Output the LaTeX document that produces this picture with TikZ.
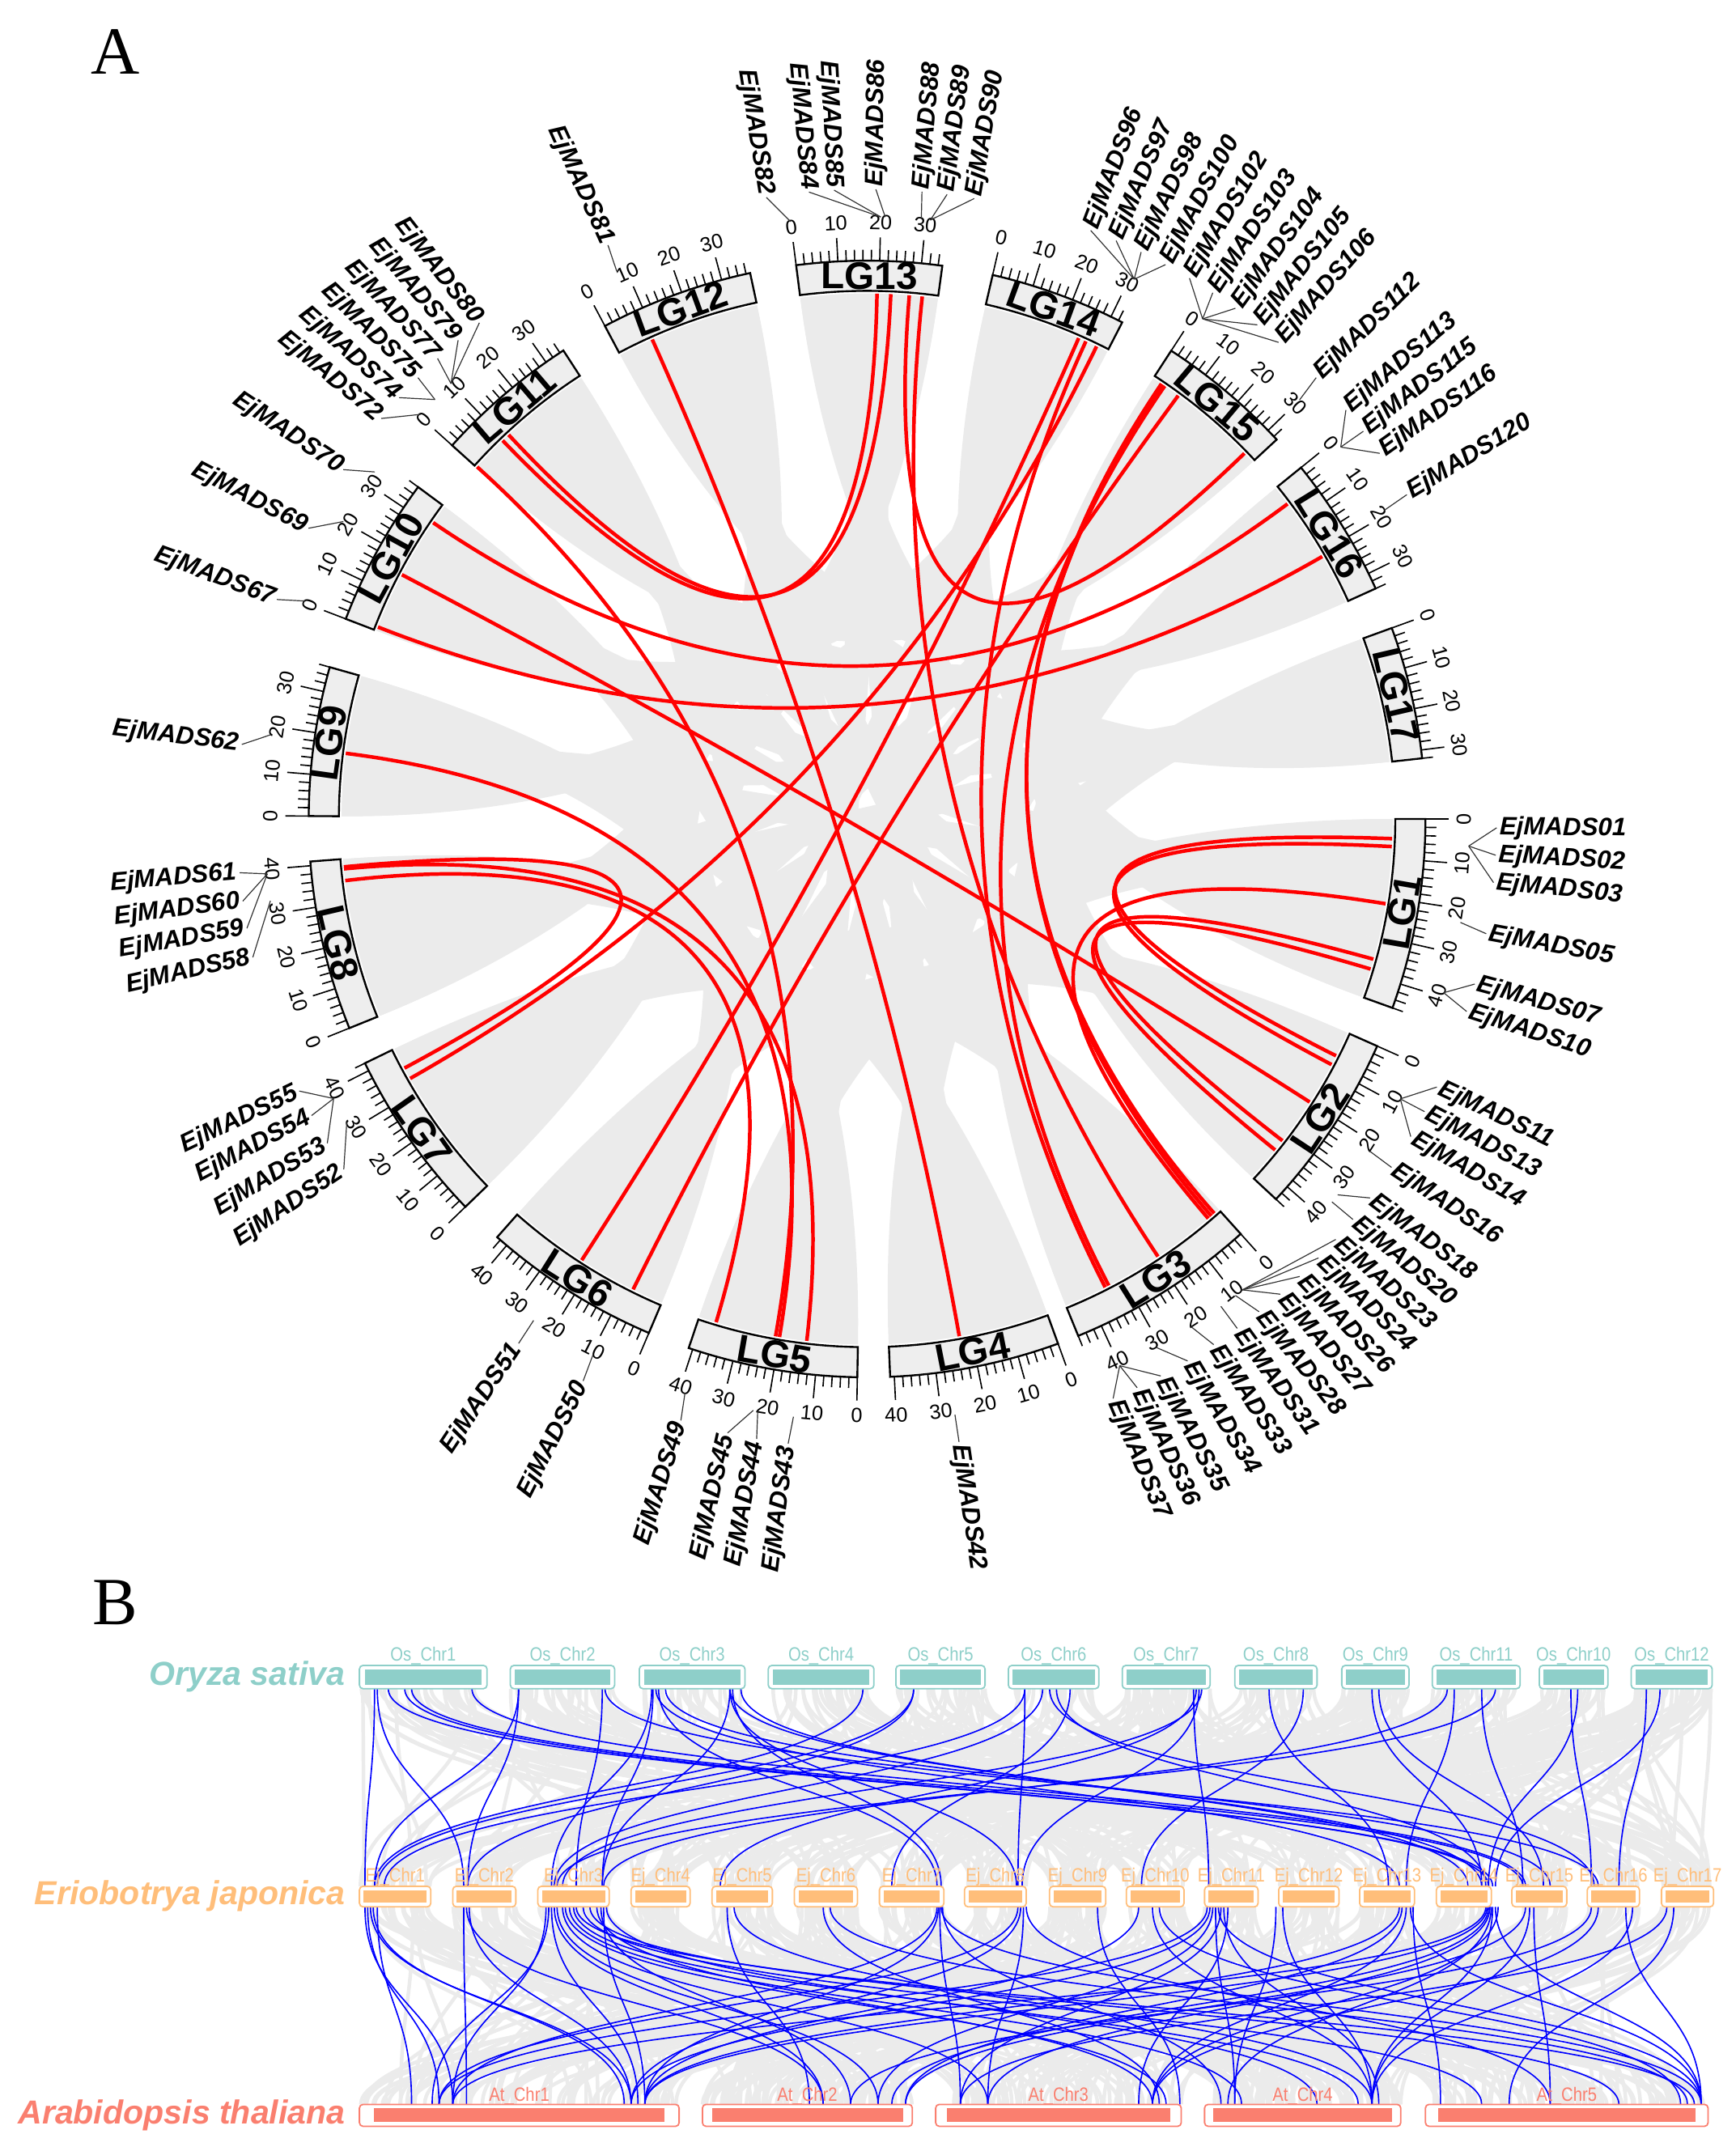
\documentclass[tikz,border=0pt]{standalone}
\usepackage{fontspec}
\setmainfont{Liberation Serif}
\setsansfont{Liberation Sans}
\newfontfamily\narrowsf[FakeStretch=0.85]{Liberation Sans}

\definecolor{osteal}{HTML}{8ECFC9}
\definecolor{ejorange}{HTML}{FFBE7A}
\definecolor{atsalmon}{HTML}{FA7F6F}
\definecolor{ribgray}{HTML}{EBEBEB}
\definecolor{boxgray}{HTML}{EEEEEE}

% radii of the circle plot
\def\rin{385}  \def\rout{407} \def\rmid{396}
\def\rmin{415} \def\rmaj{424} \def\rtl{435}
\def\rl{383}   \def\rlc{128}
\def\rca{439}  \def\rcb{459}
\def\mbdeg{0.43}
% start angle and length of each LG
\def\chst{{0,0,24,48,70,91,113,136,158,180.3,201,222,242,262.7,283,303,321,340}}
\def\chln{{0,46,44,46,41,41,43,42,41,36,36,35,37,35,33,33,34,32}}
% chromosome bars of part B
\def\osL{{262,372,466,560,653,735,818,900,978,1044,1122,1189}}
\def\osR{{355,448,543,637,718,801,882,960,1027,1108,1172,1248}}
\def\ejL{{262,330,392,460,519,579,641,703,765,821,878,932,991,1047,1102,1157,1211}}
\def\ejR{{314,376,444,503,563,625,688,748,806,863,917,976,1031,1087,1142,1195,1249}}
\def\atL{{262,512,682,878,1039}}
\def\atR{{495,665,861,1021,1245}}

\tikzset{
  ideo/.style={draw=black, fill=boxgray, line width=0.8pt},
  ribbon/.style={fill=ribgray},
  tickln/.style={line width=0.55pt},
  redlink/.style={draw=red, line width=1.5pt},
  genelink/.style={draw=black!80, line width=0.4pt},
  genelab/.style={font=\sffamily\bfseries\itshape\fontsize{10.5}{12}\selectfont, inner sep=1pt},
  ticklab/.style={font=\sffamily\fontsize{8.5}{10}\selectfont, inner sep=0pt},
  lglab/.style={font=\sffamily\bfseries\fontsize{16}{18}\selectfont, inner sep=0pt},
  bluelink/.style={draw=blue, line width=0.55pt},
  graylink/.style={draw=black!8, line width=1.5pt},
  chrlab/.style={font=\narrowsf\fontsize{8}{9}\selectfont, inner sep=0pt},
  splab/.style={font=\sffamily\bfseries\itshape\fontsize{13.8}{16}\selectfont, inner sep=0pt, anchor=east},
  panel/.style={font=\rmfamily\fontsize{28}{30}\selectfont, inner sep=0pt}
}

% gene label: LG, position (Mb), label angle, number
\newcommand{\gene}[4]{%
  \pgfmathsetmacro\ga{-(\chst[#1]+\mbdeg*#2)}%
  \pgfmathsetmacro\pa{-(#3)}%
  \pgfmathtruncatemacro\rside{cos(\pa)>0 ? 1 : 0}%
  \coordinate (c#4) at (\ga:\rca);
  \ifnum\rside=1
    \node[genelab, anchor=west, rotate=\pa] (g#4) at (\pa:\rcb) {EjMADS#4};
    \draw[genelink] (c#4) -- (g#4.west);
  \else
    \pgfmathsetmacro\pb{\pa+180}%
    \node[genelab, anchor=east, rotate=\pb] (g#4) at (\pa:\rcb) {EjMADS#4};
    \draw[genelink] (c#4) -- (g#4.east);
  \fi}

\begin{document}
\begin{tikzpicture}[x=0.02cm, y=0.02cm]
  \useasboundingbox (0,0) rectangle (1265,-1568);

  \node[panel] (pA) at (84,-38) {A};
  \node[panel] (pB) at (84,-1168) {B};

  %% circle plot
  \begin{scope}[shift={(632,-597)}]
    % background ribbons
    \foreach \i in {1,...,17}{
      \foreach \k in {0,1,2}{
        \pgfmathtruncatemacro\j{mod(\i-1+4+4*\k,17)+1}
        \pgfmathsetmacro\aone{-(\chst[\i]+\mbdeg*\chln[\i]*\k/3)}
        \pgfmathsetmacro\atwo{-(\chst[\i]+\mbdeg*\chln[\i]*(\k+1)/3)}
        \pgfmathsetmacro\bone{-(\chst[\j]+\mbdeg*\chln[\j]*(2-\k)/3)}
        \pgfmathsetmacro\btwo{-(\chst[\j]+\mbdeg*\chln[\j]*(3-\k)/3)}
        \fill[ribbon] (\aone:\rl) arc[start angle=\aone, end angle=\atwo, radius=\rl]
          .. controls (\atwo:\rlc) and (\bone:\rlc) .. (\bone:\rl)
          arc[start angle=\bone, end angle=\btwo, radius=\rl]
          .. controls (\btwo:\rlc) and (\aone:\rlc) .. cycle;
      }
    }

    % ideograms with scale
    \foreach \nn/\st/\len in {1/0/46, 2/24/44, 3/48/46, 4/70/41, 5/91/41, 6/113/43,
        7/136/42, 8/158/41, 9/180.3/36, 10/201/36, 11/222/35, 12/242/37,
        13/262.7/35, 14/283/33, 15/303/33, 16/321/34, 17/340/32}{
      \pgfmathsetmacro\en{\st+\mbdeg*\len}
      \draw[ideo] (-\st:\rin) arc[start angle=-\st, end angle=-\en, radius=\rin]
        -- (-\en:\rout) arc[start angle=-\en, end angle=-\st, radius=\rout] -- cycle;
      \pgfmathsetmacro\m{-(\st+\en)/2}
      \pgfmathsetmacro\rot{sin(\m)>0 ? \m-90 : \m+90}
      \node[lglab, rotate=\rot] (lg\nn) at (\m:\rmid) {LG\nn};
      \foreach \t in {0,2,...,\len}{
        \pgfmathsetmacro\ta{-(\st+\mbdeg*\t)}
        \pgfmathtruncatemacro\mj{mod(\t,10)==0 ? 1 : 0}
        \ifnum\mj=1
          \draw[tickln] (\ta:\rout) -- (\ta:\rmaj);
          \pgfmathsetmacro\rot{sin(\ta)>0 ? \ta-90 : \ta+90}
          \node[ticklab, rotate=\rot] (t\nn-\t) at (\ta:\rtl) {\t};
        \else
          \draw[tickln] (\ta:\rout) -- (\ta:\rmin);
        \fi
      }
    }

    % segmental duplications
    \foreach \ca/\ppa/\cb/\ppb in {1/5/2/6.5, 1/7/2/9, 1/36/2/32, 1/38.6/2/35,
        1/21.6/3/3.5, 10/15.6/2/20, 15/2.5/3/1.5, 15/3/3/2.5, 15/3.5/3/34,
        14/27/3/35, 13/31/3/19.5, 13/19.5/11/9.5, 13/23/11/11.6, 13/27.7/15/30,
        12/9/4/23, 10/31/16/5, 10/1/16/21, 6/23/14/25, 6/8/15/7.7, 7/36.5/8/39,
        7/33.5/14/30, 8/38.5/5/13, 8/35.5/5/36.5, 9/16/5/20, 11/0.2/5/21}{
      \pgfmathsetmacro\aa{-(\chst[\ca]+\mbdeg*\ppa)}
      \pgfmathsetmacro\bb{-(\chst[\cb]+\mbdeg*\ppb)}
      \draw[redlink] (\aa:\rl) .. controls (\aa:\rlc) and (\bb:\rlc) .. (\bb:\rl);
    }

    % gene labels
    \foreach \c/\p/\f/\g in {1/6/0.8/01, 1/6/3.3/02, 1/6/5.8/03, 1/23/10.5/05,
        1/39/15.2/07, 1/39/17.8/10, 2/8.6/25.2/11, 2/8.6/27.7/13, 2/8.6/30.3/14,
        2/22/33.6/16, 2/34/37/18, 2/36/39.5/20, 3/8/41.9/23, 3/8/44.2/24,
        3/8/46.6/26, 3/8/49/27, 3/10/51.5/28, 3/14/54/31, 3/22/56.6/33,
        3/31/59.4/34, 3/40/62.2/35, 3/40/64.6/36, 3/40/67/37, 4/27/81.6/42,
        5/14/97.2/43, 5/22/100.1/44, 5/23/102.8/45, 5/38.6/107.2/49,
        6/9.5/116.8/50, 6/24.7/123.6/51, 7/32/146.2/52, 7/38/149/53,
        7/38/151.9/54, 7/38/154.4/55, 8/33/167.3/58, 8/39/170/59, 8/39/172.5/60,
        8/39/175.1/61, 9/18/186.8/62, 10/0.5/200.4/67, 10/20/207.5/69,
        10/33/213.7/70, 11/0.5/219.5/72, 11/5/222/74, 11/5/224.5/75,
        11/10/227/77, 11/10/229.5/79, 11/10/232/80, 12/8/245.7/81,
        13/0/260.8/82, 13/20/264.7/84, 13/20/267/85, 13/21/270.8/86,
        13/29/275/88, 13/31/277.3/89, 13/31/279.8/90, 14/31/290.8/96,
        14/31/293.3/97, 14/31/295.8/98, 14/31/298.3/100, 15/2/300.8/102,
        15/2/303.3/103, 15/2/305.8/104, 15/2/308.3/105, 15/2/310.8/106,
        15/30/315.5/112, 16/2/319.5/113, 16/2/322/115, 16/2/324.5/116,
        16/19/329/120}{
      \gene{\c}{\p}{\f}{\g}
    }
  \end{scope}

  %% synteny plot
  \pgfmathsetseed{2024}
  \foreach \k in {1,...,420}{
    \pgfmathtruncatemacro\i{random(0,11)}
    \pgfmathtruncatemacro\j{random(0,16)}
    \pgfmathsetmacro\xa{\osL[\i]+rnd*(\osR[\i]-\osL[\i])}
    \pgfmathsetmacro\xb{\ejL[\j]+rnd*(\ejR[\j]-\ejL[\j])}
    \draw[graylink] (\xa,-1231) .. controls (\xa,-1303) and (\xb,-1303) .. (\xb,-1375);
  }
  \foreach \k in {1,...,480}{
    \pgfmathtruncatemacro\i{random(0,16)}
    \pgfmathtruncatemacro\j{random(0,4)}
    \pgfmathsetmacro\xa{\ejL[\i]+rnd*(\ejR[\i]-\ejL[\i])}
    \pgfmathsetmacro\xb{\atL[\j]+rnd*(\atR[\j]-\atL[\j])}
    \draw[graylink] (\xa,-1390) .. controls (\xa,-1462) and (\xb,-1462) .. (\xb,-1534);
  }

  % Os - Ej
  \foreach \xa/\xb in {273/266, 275/338, 283/1088, 344/1112, 378/273, 378/341,
      439/420, 441/1165, 475/402, 476/439, 478/1020, 480/683, 532/439, 532/1080,
      532/741, 534/686, 629/273, 666/275, 666/341, 747/280, 747/742, 760/404,
      765/1162, 770/1083, 780/650, 870/881, 872/525, 874/745, 876/410, 925/1012,
      950/832, 1000/1080, 1005/1125, 1055/440, 1060/1025, 1080/1110, 1090/406,
      1145/1160, 1150/1085, 1200/1180, 1210/1090, 295/1085, 300/1110, 485/1130,
      540/1070}{
    \draw[bluelink] (\xa,-1231) .. controls (\xa,-1303) and (\xb,-1303) .. (\xb,-1375);
  }
  % Ej - At
  \foreach \xa/\xb in {266/330, 268/320, 270/460, 272/455, 275/300, 338/340,
      340/600, 342/460, 398/330, 400/315, 402/465, 404/600, 406/640, 410/720,
      412/850, 415/905, 418/990, 420/1235, 425/1080, 430/1180, 435/840, 438/620,
      440/470, 442/960, 530/590, 535/1000, 600/845, 605/1230, 683/330, 684/470,
      685/700, 686/1240, 687/890, 742/320, 744/460, 746/720, 748/1130, 800/860,
      830/470, 840/1000, 845/1225, 880/320, 882/460, 884/640, 886/900, 888/1240,
      890/700, 892/1005, 895/830, 930/900, 935/1000, 1020/470, 1022/660,
      1025/840, 1028/1240, 1030/1050, 1083/330, 1084/470, 1085/650, 1086/720,
      1087/895, 1088/1000, 1090/1240, 1092/840, 1112/660, 1115/1000, 1118/1130,
      1160/620, 1165/840, 1185/1240, 1190/1000, 1215/700, 1220/1100}{
    \draw[bluelink] (\xa,-1390) .. controls (\xa,-1462) and (\xb,-1462) .. (\xb,-1534);
  }

  % chromosome bars
  \foreach \nm/\xl/\xr in {1/262/355, 2/372/448, 3/466/543, 4/560/637, 5/653/718,
      6/735/801, 7/818/882, 8/900/960, 9/978/1027, 11/1044/1108, 10/1122/1172,
      12/1189/1248}{
    \pgfmathsetmacro\ins{max(3,0.045*(\xr-\xl))}
    \filldraw[fill=white, draw=osteal, rounded corners=1.5pt, line width=0.6pt]
      (\xl,-1214) rectangle (\xr,-1231);
    \fill[osteal] (\xl+\ins,-1217) rectangle (\xr-\ins,-1228);
    \node[chrlab, text=osteal] (os\nm) at ({(\xl+\xr)/2},-1207) {Os\_Chr\nm};
  }
  \foreach \nm/\xl/\xr in {1/262/314, 2/330/376, 3/392/444, 4/460/503, 5/519/563,
      6/579/625, 7/641/688, 8/703/748, 9/765/806, 10/821/863, 11/878/917,
      12/932/976, 13/991/1031, 14/1047/1087, 15/1102/1142, 16/1157/1195,
      17/1211/1249}{
    \pgfmathsetmacro\ins{max(3,0.045*(\xr-\xl))}
    \filldraw[fill=white, draw=ejorange, rounded corners=1.5pt, line width=0.6pt]
      (\xl,-1375) rectangle (\xr,-1390);
    \fill[ejorange] (\xl+\ins,-1378) rectangle (\xr-\ins,-1387);
    \node[chrlab, text=ejorange] (ej\nm) at ({(\xl+\xr)/2},-1368) {Ej\_Chr\nm};
  }
  \foreach \nm/\xl/\xr in {1/262/495, 2/512/665, 3/682/861, 4/878/1021, 5/1039/1245}{
    \pgfmathsetmacro\ins{max(3,0.045*(\xr-\xl))}
    \filldraw[fill=white, draw=atsalmon, rounded corners=1.5pt, line width=0.6pt]
      (\xl,-1534) rectangle (\xr,-1550);
    \fill[atsalmon] (\xl+\ins,-1537) rectangle (\xr-\ins,-1547);
    \node[chrlab, text=atsalmon] (at\nm) at ({(\xl+\xr)/2},-1528) {At\_Chr\nm};
  }

  \node[splab, text=osteal] (osname) at (252,-1222) {Oryza sativa};
  \node[splab, text=ejorange] (ejname) at (252,-1382) {Eriobotrya japonica};
  \node[splab, text=atsalmon] (atname) at (252,-1542) {Arabidopsis thaliana};
\end{tikzpicture}
\end{document}
